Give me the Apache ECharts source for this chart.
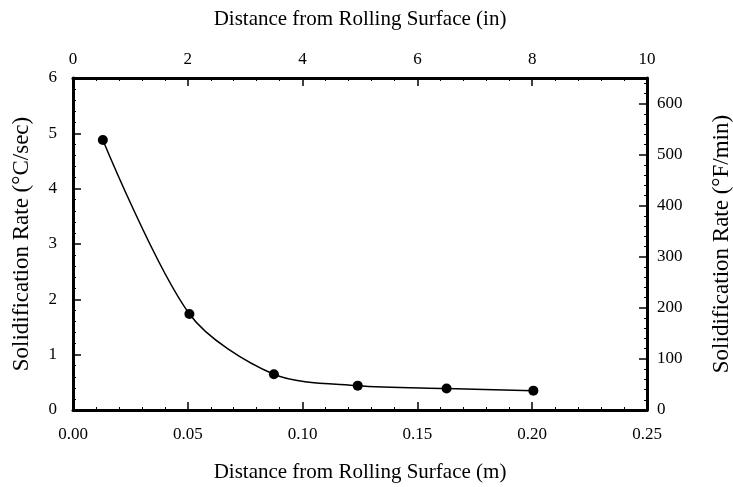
<!DOCTYPE html>
<html>
<head>
<meta charset="utf-8">
<script src="https://cdn.jsdelivr.net/npm/echarts@6/dist/echarts.min.js"></script>
<style>
html,body{margin:0;padding:0;background:#fff;}
#chartmain{width:733px;height:487px;}
</style>
</head>
<body>
<div id="chartmain"></div>
<script>
// distance (m) and cooling rate (C/sec)
var distM = [0.013, 0.0507, 0.0875, 0.124, 0.1627, 0.2005];
var rateC = [4.88, 1.735, 0.645, 0.44, 0.39, 0.35];

var serif = 'Liberation Serif';
var pts = [];
for (var i = 0; i < distM.length; i++) {
	pts.push([distM[i], rateC[i]]);
}

function axisStyle(nameSize){
	return {
		axisLine: {show: true, onZero: false, lineStyle: {color: '#000', width: 3}},
		axisTick: {show: true, inside: true, length: 8, lineStyle: {color: '#000', width: 1.5}},
		minorTick: {show: true, splitNumber: 5, length: 3, lineStyle: {color: '#000', width: 1}},
		splitLine: {show: false},
		axisLabel: {color: '#000', fontFamily: serif, fontSize: 17, margin: 12},
		nameTextStyle: {color: '#000', fontFamily: serif, fontSize: nameSize}
	};
}

var xb = axisStyle(21);
xb.type = 'value'; xb.position = 'bottom';
xb.min = 0; xb.max = 0.25; xb.interval = 0.05;
xb.axisLabel.formatter = function(v){ return v.toFixed(2); };
xb.axisLabel.margin = 16;
xb.name = 'Distance from Rolling Surface (m)';
xb.nameLocation = 'middle'; xb.nameGap = 52;

var xt = axisStyle(21);
xt.type = 'value'; xt.position = 'top';
xt.min = 0; xt.max = 10; xt.interval = 2;
xt.axisLabel.margin = 10;
xt.name = 'Distance from Rolling Surface (in)';
xt.nameLocation = 'middle'; xt.nameGap = 48;

var yl = axisStyle(23);
yl.type = 'value'; yl.position = 'left';
yl.min = 0; yl.max = 6; yl.interval = 1;
yl.axisLabel.margin = 16;
yl.name = 'Solidification Rate (°C/sec)';
yl.nameLocation = 'middle'; yl.nameGap = 40;

var yr = axisStyle(23);
yr.type = 'value'; yr.position = 'right';
yr.min = 0; yr.max = 650; yr.interval = 100;
yr.axisLabel.formatter = function(v){ return v > 600 ? '' : String(v); };
yr.axisLabel.margin = 10;
yr.name = 'Solidification Rate (°F/min)';
yr.nameLocation = 'middle'; yr.nameGap = 63;

var myChart = echarts.init(document.getElementById('chartmain'));
var option = {
	backgroundColor: '#fff',
	animation: false,
	grid: {left: 73, right: 86, top: 78, bottom: 77, containLabel: false, outerBoundsMode: 'none'},
	xAxis: [xb, xt],
	yAxis: [yl, yr],
	series: [
		{
			type: 'line',
			xAxisIndex: 0,
			yAxisIndex: 0,
			smooth: 0.3,
			symbol: 'circle',
			symbolSize: 10,
			itemStyle: {color: '#000'},
			lineStyle: {color: '#000', width: 1.5},
			data: pts
		}
	]
};
myChart.setOption(option);
</script>
</body>
</html>
